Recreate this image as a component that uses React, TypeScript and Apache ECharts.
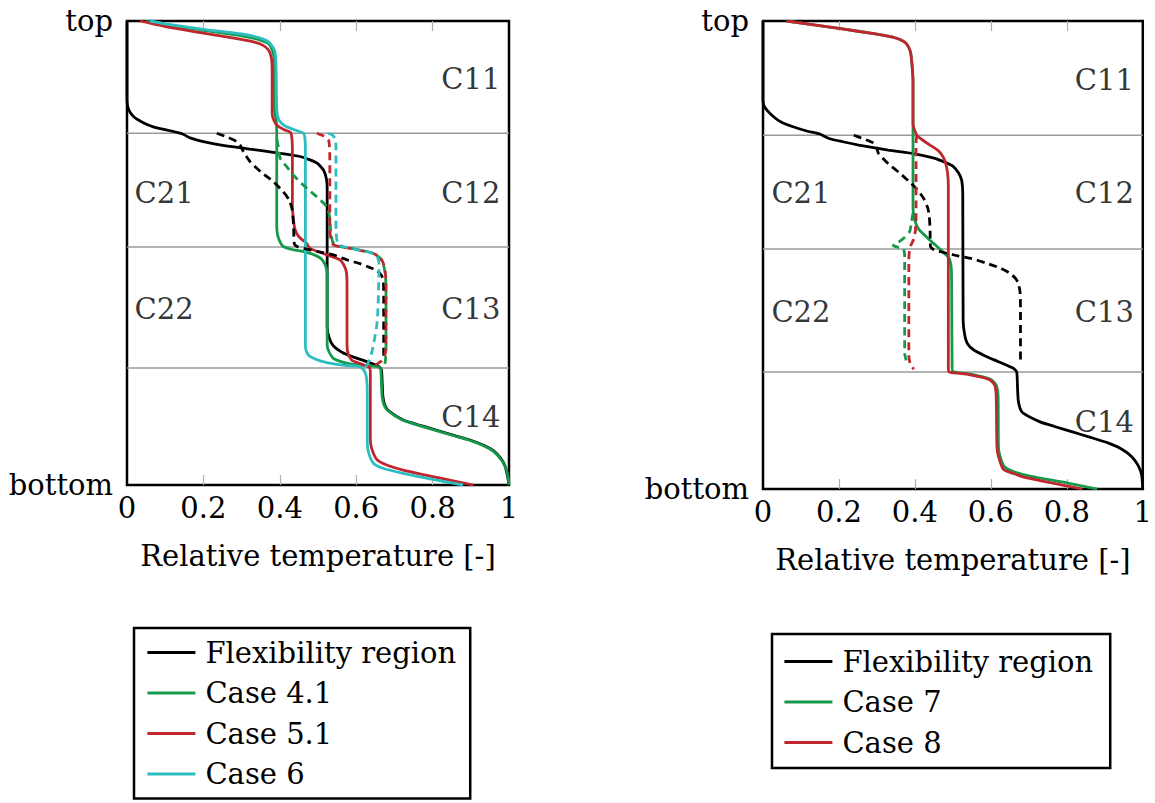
import React, { useEffect, useRef } from 'react';
import * as echarts from 'echarts';

// ---------- data ----------
const tickValues = [0.2, 0.4, 0.6, 0.8];
const leftBoundaries = [0.758, 0.513, 0.252];
const rightBoundaries = [0.756, 0.513, 0.25];

const leftRegionLabels: [number, number, string][] = [
  [0.9, 0.875, 'C11'], [0.9, 0.63, 'C12'], [0.9, 0.379, 'C13'], [0.9, 0.147, 'C14'],
  [0.097, 0.63, 'C21'], [0.097, 0.379, 'C22'],
];
const rightRegionLabels: [number, number, string][] = [
  [0.899, 0.874, 'C11'], [0.899, 0.632, 'C12'], [0.899, 0.378, 'C13'], [0.899, 0.143, 'C14'],
  [0.1, 0.632, 'C21'], [0.1, 0.378, 'C22'],
];

// Left panel: solid (column 1)
const flexL = [[0,1.0],[0,0.83],[0.004,0.81],[0.017,0.794],[0.04,0.782],[0.069,0.772],[0.11,0.764],[0.147,0.756],[0.165,0.748],[0.2,0.740],[0.243,0.733],[0.322,0.724],[0.392,0.716],[0.453,0.708],[0.497,0.694],[0.515,0.678],[0.522,0.66],[0.524,0.64],[0.524,0.34],[0.529,0.318],[0.54,0.3],[0.565,0.285],[0.592,0.276],[0.63,0.265],[0.658,0.256],[0.666,0.248],[0.668,0.22],[0.67,0.19],[0.675,0.172],[0.685,0.16],[0.723,0.14],[0.77,0.128],[0.811,0.118],[0.86,0.106],[0.898,0.097],[0.935,0.085],[0.959,0.074],[0.978,0.058],[0.99,0.04],[0.997,0.015],[1.0,0]];
const case41L = [[0.05,1.0],[0.1,0.992],[0.2,0.98],[0.3,0.968],[0.345,0.96],[0.372,0.95],[0.383,0.93],[0.386,0.9],[0.386,0.81],[0.39,0.79],[0.392,0.76],[0.392,0.56],[0.394,0.54],[0.4,0.525],[0.409,0.514],[0.435,0.507],[0.462,0.503],[0.49,0.496],[0.508,0.488],[0.518,0.476],[0.523,0.462],[0.524,0.44],[0.524,0.3],[0.53,0.285],[0.54,0.273],[0.56,0.266],[0.584,0.261],[0.62,0.258],[0.655,0.255],[0.664,0.25],[0.666,0.22],[0.668,0.19],[0.673,0.172],[0.683,0.16],[0.72,0.14],[0.77,0.127],[0.81,0.117],[0.86,0.105],[0.898,0.096],[0.935,0.084],[0.96,0.072],[0.978,0.056],[0.99,0.04],[0.997,0.02],[1.0,0]];
const case51L = [[0.034,1.0],[0.1,0.988],[0.2,0.974],[0.28,0.963],[0.331,0.955],[0.355,0.948],[0.37,0.938],[0.378,0.92],[0.38,0.89],[0.38,0.8],[0.384,0.787],[0.392,0.776],[0.41,0.766],[0.428,0.76],[0.432,0.745],[0.433,0.72],[0.433,0.6],[0.436,0.57],[0.44,0.55],[0.45,0.535],[0.47,0.521],[0.479,0.51],[0.52,0.497],[0.558,0.485],[0.57,0.47],[0.575,0.455],[0.576,0.42],[0.576,0.3],[0.58,0.28],[0.59,0.268],[0.619,0.259],[0.635,0.253],[0.637,0.24],[0.637,0.1],[0.64,0.08],[0.654,0.055],[0.68,0.043],[0.723,0.032],[0.8,0.018],[0.86,0.008],[0.907,0.0]];
const case6L = [[0.06,1.0],[0.1,0.994],[0.2,0.982],[0.3,0.972],[0.345,0.964],[0.372,0.954],[0.386,0.937],[0.39,0.91],[0.392,0.81],[0.396,0.79],[0.405,0.779],[0.418,0.772],[0.44,0.765],[0.462,0.758],[0.466,0.745],[0.467,0.72],[0.467,0.3],[0.47,0.287],[0.479,0.277],[0.5,0.269],[0.523,0.264],[0.57,0.258],[0.61,0.255],[0.622,0.245],[0.627,0.23],[0.629,0.2],[0.629,0.09],[0.633,0.068],[0.645,0.047],[0.67,0.036],[0.723,0.025],[0.8,0.012],[0.88,0.0]];

// Left panel: dashed (column 2)
const flexL2 = [[0.235,0.758],[0.262,0.75],[0.287,0.74],[0.298,0.73],[0.305,0.718],[0.322,0.697],[0.35,0.675],[0.383,0.654],[0.409,0.632],[0.424,0.615],[0.432,0.595],[0.436,0.56],[0.438,0.52],[0.445,0.514],[0.462,0.51],[0.5,0.503],[0.54,0.496],[0.58,0.484],[0.61,0.477],[0.638,0.468],[0.654,0.462],[0.666,0.452],[0.671,0.44],[0.672,0.4],[0.672,0.277]];
const case41L2 = [[0.392,0.745],[0.396,0.729],[0.401,0.704],[0.418,0.686],[0.435,0.668],[0.466,0.643],[0.497,0.621],[0.523,0.6],[0.53,0.58],[0.533,0.55],[0.538,0.525],[0.548,0.516],[0.6,0.508],[0.645,0.499],[0.667,0.485],[0.675,0.46],[0.678,0.43],[0.678,0.29],[0.676,0.265],[0.672,0.256]];
const case51L2 = [[0.497,0.758],[0.515,0.752],[0.527,0.744],[0.53,0.73],[0.531,0.7],[0.531,0.55],[0.534,0.53],[0.54,0.518],[0.56,0.513],[0.584,0.51],[0.62,0.504],[0.645,0.499],[0.66,0.492],[0.67,0.48],[0.676,0.46],[0.678,0.43],[0.678,0.3],[0.675,0.28],[0.667,0.268],[0.655,0.261],[0.645,0.258]];
const case6L2 = [[0.527,0.758],[0.538,0.754],[0.545,0.746],[0.547,0.73],[0.547,0.55],[0.549,0.53],[0.553,0.52],[0.565,0.514],[0.6,0.508],[0.645,0.499],[0.656,0.49],[0.66,0.475],[0.659,0.44],[0.657,0.38],[0.654,0.345],[0.648,0.315],[0.642,0.29],[0.634,0.268],[0.625,0.255]];

// Right panel: solid (column 1)
const flexR = [[0,1.0],[0,0.83],[0.005,0.815],[0.027,0.796],[0.05,0.783],[0.079,0.774],[0.115,0.765],[0.148,0.759],[0.174,0.749],[0.21,0.742],[0.252,0.735],[0.33,0.724],[0.399,0.716],[0.45,0.707],[0.477,0.699],[0.5,0.69],[0.515,0.675],[0.523,0.66],[0.526,0.63],[0.527,0.36],[0.531,0.33],[0.538,0.311],[0.555,0.297],[0.581,0.286],[0.62,0.272],[0.659,0.258],[0.668,0.25],[0.67,0.22],[0.672,0.19],[0.677,0.172],[0.685,0.162],[0.728,0.144],[0.77,0.133],[0.815,0.122],[0.86,0.111],[0.91,0.098],[0.945,0.085],[0.971,0.069],[0.988,0.05],[0.997,0.03],[1.0,0]];
const case7R = [[0.062,1.0],[0.2,0.984],[0.3,0.972],[0.339,0.966],[0.362,0.96],[0.377,0.952],[0.388,0.935],[0.392,0.91],[0.395,0.87],[0.395,0.6],[0.398,0.58],[0.403,0.566],[0.41,0.555],[0.434,0.536],[0.468,0.511],[0.486,0.497],[0.492,0.489],[0.496,0.47],[0.497,0.4],[0.498,0.26],[0.5,0.251],[0.52,0.248],[0.55,0.245],[0.6,0.234],[0.614,0.222],[0.619,0.2],[0.62,0.09],[0.624,0.07],[0.635,0.048],[0.66,0.037],[0.7,0.028],[0.8,0.013],[0.88,0.0]];
const case8R = [[0.062,1.0],[0.2,0.984],[0.3,0.972],[0.339,0.966],[0.362,0.96],[0.377,0.952],[0.388,0.935],[0.392,0.91],[0.395,0.87],[0.395,0.78],[0.4,0.765],[0.408,0.753],[0.43,0.74],[0.46,0.724],[0.474,0.71],[0.481,0.696],[0.486,0.675],[0.488,0.65],[0.488,0.26],[0.49,0.25],[0.52,0.247],[0.546,0.244],[0.575,0.239],[0.598,0.233],[0.61,0.222],[0.614,0.2],[0.616,0.09],[0.62,0.07],[0.633,0.042],[0.66,0.033],[0.685,0.026],[0.76,0.013],[0.841,0.0]];

// Right panel: dashed (column 2)
const flexR2 = [[0.239,0.756],[0.265,0.748],[0.291,0.739],[0.3,0.728],[0.304,0.717],[0.33,0.695],[0.36,0.675],[0.39,0.653],[0.41,0.636],[0.425,0.618],[0.434,0.6],[0.438,0.582],[0.44,0.55],[0.441,0.518],[0.451,0.511],[0.503,0.5],[0.55,0.492],[0.59,0.482],[0.625,0.472],[0.65,0.461],[0.665,0.45],[0.672,0.44],[0.677,0.42],[0.678,0.38],[0.678,0.272]];
const case7R2 = [[0.395,0.59],[0.39,0.565],[0.386,0.55],[0.372,0.537],[0.356,0.527],[0.343,0.52],[0.355,0.517],[0.369,0.514],[0.373,0.5],[0.373,0.4],[0.373,0.29],[0.377,0.275]];
const case8R2 = [[0.405,0.756],[0.403,0.74],[0.403,0.7],[0.403,0.58],[0.401,0.55],[0.396,0.532],[0.39,0.522],[0.386,0.512],[0.384,0.49],[0.384,0.4],[0.384,0.285],[0.387,0.27],[0.392,0.262],[0.397,0.256]];

const legendLeftNames = ['Flexibility region', 'Case 4.1', 'Case 5.1', 'Case 6'];
const legendRightNames = ['Flexibility region', 'Case 7', 'Case 8'];

// ---------- style ----------
const FONT = 'DejaVu Serif';
const FS = 29;
const BLACK = '#000000';
const GREEN = '#16994b';
const RED = '#c0262d';
const CYAN = '#2cbdc0';
const LW = 2.8;
const DASH = [8, 5];

function lineSeries(name: string, data: number[][], color: string, xi: number, yi: number, dashed: boolean, z = 3) {
  return {
    type: 'line', name, data, xAxisIndex: xi, yAxisIndex: yi,
    showSymbol: false, symbol: 'none', smooth: 0.2, z,
    lineStyle: { color, width: LW, type: dashed ? DASH : 'solid' },
    itemStyle: { color },
    emphasis: { disabled: true }, silent: true,
  };
}

function boundarySeries(vals: number[], xi: number, yi: number) {
  return vals.map((v, i) => ({
    type: 'line', name: 'boundary' + xi + '_' + i, data: [[0, v], [1, v]],
    xAxisIndex: xi, yAxisIndex: yi, showSymbol: false, symbol: 'none', z: 1,
    lineStyle: { color: '#9a9a9a', width: 1.5 }, silent: true,
  }));
}

function labelSeries(vals: [number, number, string][], xi: number, yi: number) {
  return {
    type: 'scatter', name: 'labels' + xi, xAxisIndex: xi, yAxisIndex: yi,
    data: vals.map(v => ({ value: [v[0], v[1]], name: v[2] })),
    symbolSize: 0, silent: true, z: 2,
    label: {
      show: true, position: 'inside', formatter: (p: any) => p.name,
      fontFamily: FONT, fontSize: FS, color: '#000',
    },
  };
}

function bottomX(gridIndex: number) {
  return {
    type: 'value', gridIndex, min: 0, max: 1, interval: 0.2, position: 'bottom',
    name: 'Relative temperature [-]', nameLocation: 'middle', nameGap: 56,
    nameTextStyle: { fontFamily: FONT, fontSize: FS, color: '#000' },
    axisLine: { show: false },
    axisTick: { show: true, inside: true, length: 10, customValues: tickValues, lineStyle: { color: '#b0b0b0', width: 1.2 } },
    axisLabel: { show: true, margin: 8, fontFamily: FONT, fontSize: FS, color: '#000' },
    splitLine: { show: false },
  };
}
function topX(gridIndex: number) {
  return {
    type: 'value', gridIndex, min: 0, max: 1, interval: 0.2, position: 'top',
    axisLine: { show: false },
    axisTick: { show: true, inside: true, length: 10, customValues: tickValues, lineStyle: { color: '#b0b0b0', width: 1.2 } },
    axisLabel: { show: false },
    splitLine: { show: false },
  };
}
function leftY(gridIndex: number) {
  return {
    type: 'value', gridIndex, min: 0, max: 1, interval: 1,
    axisLine: { show: false }, axisTick: { show: false }, splitLine: { show: false },
    axisLabel: {
      show: true, margin: 14, fontFamily: FONT, fontSize: FS, color: '#000',
      formatter: (v: number) => (v === 1 ? 'top' : v === 0 ? 'bottom' : ''),
    },
  };
}

function legend(names: string[], left: number, top: number, padding: number[]) {
  return {
    data: names, orient: 'vertical', left, top, padding,
    itemWidth: 48, itemHeight: 14, itemGap: 11.5,
    borderColor: '#000', borderWidth: 2.5, backgroundColor: '#fff',
    selectedMode: false,
    itemStyle: { opacity: 0, borderWidth: 0 },
    lineStyle: { width: 2.8 },
    textStyle: { fontFamily: FONT, fontSize: FS, color: '#000', padding: [0, 0, 0, 5] },
  };
}

export default function App() {
  const ref = useRef<HTMLDivElement>(null);
  useEffect(() => {
    if (!ref.current) return;
    const chart = echarts.init(ref.current, undefined, { renderer: 'svg' });
    const option = {
      animation: false,
      backgroundColor: '#fff',
      grid: [
        { left: 127, top: 21, width: 382, height: 464, show: true, borderColor: '#000', borderWidth: 2.5, backgroundColor: 'transparent', containLabel: false },
        { left: 763, top: 21, width: 385, height: 468, show: true, borderColor: '#000', borderWidth: 2.5, backgroundColor: 'transparent', containLabel: false },
      ],
      xAxis: [bottomX(0), topX(0), bottomX(1), topX(1)],
      yAxis: [leftY(0), leftY(1)],
      legend: [
        legend(legendLeftNames, 134, 628, [10, 14, 10, 12]),
        legend(legendRightNames, 772, 634, [13, 17, 11, 11]),
      ],
      series: [
        ...boundarySeries(leftBoundaries, 0, 0),
        ...boundarySeries(rightBoundaries, 2, 1),
        labelSeries(leftRegionLabels, 0, 0),
        labelSeries(rightRegionLabels, 2, 1),
        // left panel
        lineSeries('Flexibility region', flexL, BLACK, 0, 0, false, 3),
        lineSeries('Case 4.1', case41L, GREEN, 0, 0, false, 4),
        lineSeries('Case 5.1', case51L, RED, 0, 0, false, 4),
        lineSeries('Case 6', case6L, CYAN, 0, 0, false, 4),
        lineSeries('Flexibility region (C2)', flexL2, BLACK, 0, 0, true, 5),
        lineSeries('Case 4.1 (C2)', case41L2, GREEN, 0, 0, true, 5),
        lineSeries('Case 5.1 (C2)', case51L2, RED, 0, 0, true, 5),
        lineSeries('Case 6 (C2)', case6L2, CYAN, 0, 0, true, 5),
        // right panel
        lineSeries('Flexibility region', flexR, BLACK, 2, 1, false, 3),
        lineSeries('Case 7', case7R, GREEN, 2, 1, false, 4),
        lineSeries('Case 8', case8R, RED, 2, 1, false, 4),
        lineSeries('Flexibility region (C2)', flexR2, BLACK, 2, 1, true, 5),
        lineSeries('Case 7 (C2)', case7R2, GREEN, 2, 1, true, 5),
        lineSeries('Case 8 (C2)', case8R2, RED, 2, 1, true, 5),
      ],
    };
    chart.setOption(option as any);
    return () => chart.dispose();
  }, []);
  return (
    <div
      ref={ref}
      style={{ position: 'fixed', left: 0, top: 0, width: 1155, height: 803, background: '#fff' }}
    />
  );
}
